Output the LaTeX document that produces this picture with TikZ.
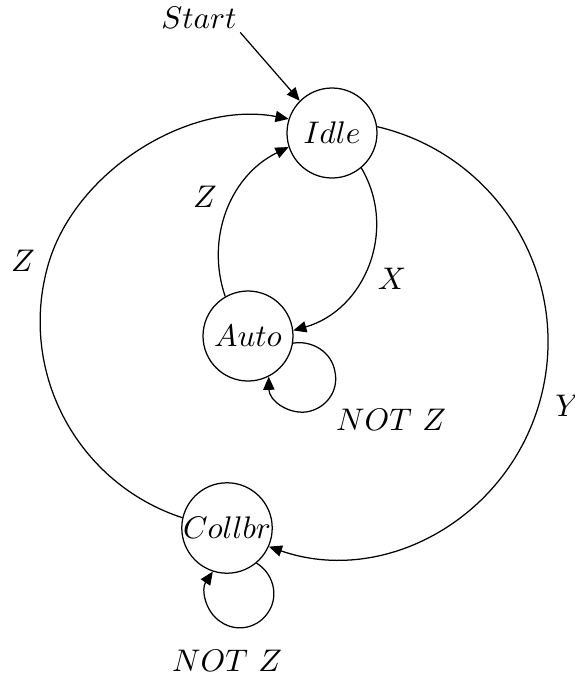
\documentclass[tikz,border=0pt]{standalone}
\usetikzlibrary{arrows.meta}
\begin{document}
\begin{tikzpicture}[x=0.32pt,y=-0.32pt,
  state/.style={draw,circle,minimum size=28.8pt,inner sep=0pt,line width=0.4pt},
  lab/.style={inner sep=1pt},
  edge/.style={line width=0.4pt,-{Triangle[length=4.2pt,width=3.6pt]}}]
\useasboundingbox (0,0) rectangle (574,675);
\node[state] (idle) at (332,133) {$Idle$};
\node[state] (auto) at (248,336) {$Auto$};
\node[state] (coll) at (227,528) {$Collbr$};
\node[lab] (lstart) at (199,18) {$Start$};
\node[lab] (lzbig) at (23,261) {$Z$};
\node[lab] (lzin) at (205,197) {$Z$};
\node[lab] (lx) at (392,279) {$X$};
\node[lab] (ly) at (568,406) {$Y$};
\node[lab] (lnza) at (391,420) {$NOT\ Z$};
\node[lab] (lnzc) at (227,661) {$NOT\ Z$};
\draw[edge] (lstart.south east) -- (idle.135);
\draw[edge] (coll.167) .. controls (79,484) and (19,375) .. (47,269)
  .. controls (72,172) and (189,100) .. (idle.162);
\draw[edge] (idle.8) .. controls (498,155) and (572,277) .. (541,397)
  .. controls (510,517) and (385,587) .. (coll.-24);
\draw[edge] (auto.120) .. controls (205,237) and (231,175) .. (idle.198);
\draw[edge] (idle.-50) .. controls (398,230) and (365,310) .. (auto.7);
\draw[edge] (auto.-9) .. controls (312,340) and (332,352) .. (335,372)
  .. controls (339,391) and (326,409) .. (306,412)
  .. controls (287,414) and (269,400) .. (auto.-63);
\draw[edge] (coll.-50) .. controls (273,573) and (279,595) .. (269,611)
  .. controls (259,628) and (237,633) .. (221,622)
  .. controls (205,612) and (201,589) .. (coll.-108);
\end{tikzpicture}
\end{document}
